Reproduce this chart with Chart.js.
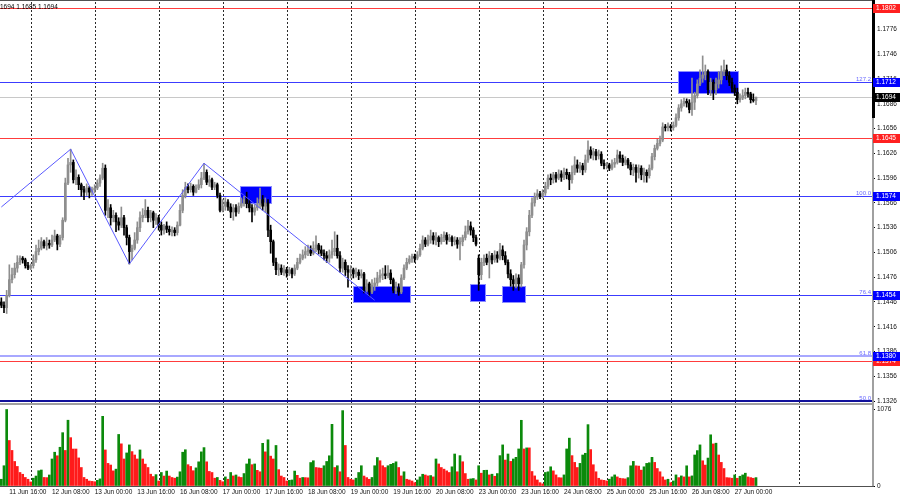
<!DOCTYPE html>
<html><head><meta charset="utf-8">
<script src="https://cdn.jsdelivr.net/npm/chart.js@4.4.1/dist/chart.umd.min.js"></script>
<style>
html,body{margin:0;padding:0;background:#fff;width:900px;height:500px;overflow:hidden}
#wrapA{position:absolute;left:0;top:0;width:900px;height:404px}
#wrapB{position:absolute;left:0;top:404px;width:900px;height:96px}
</style></head><body>
<div id="wrapA"><canvas id="priceChart"></canvas></div>
<div id="wrapB"><canvas id="volChart"></canvas></div>
<script>
// ---------- DATA ----------
const tradingDays = ['11 Jun','12 Jun','13 Jun','16 Jun','17 Jun','18 Jun','19 Jun','20 Jun','23 Jun','24 Jun','25 Jun','26 Jun','27 Jun','30 Jun'];
const firstHour = 13;      // first visible bar: 11 Jun 13:00 (H1 bars)
const slotCount = 327;     // bars + empty future slots

const opens = [
1.1446,1.1442,1.1439,1.1454,1.1473,1.1479,1.1487,1.1494,1.1499,1.1497,
1.1490,1.1487,1.1490,1.1497,1.1507,1.1511,1.1519,1.1514,1.1517,1.1515,
1.1521,1.1526,1.1516,1.1524,1.1545,1.1590,1.1612,1.1615,1.1594,1.1597,
1.1588,1.1582,1.1579,1.1584,1.1579,1.1582,1.1584,1.1590,1.1596,1.1608,
1.1557,1.1560,1.1548,1.1551,1.1543,1.1539,1.1548,1.1536,1.1524,1.1507,
1.1511,1.1521,1.1536,1.1548,1.1551,1.1557,1.1548,1.1554,1.1545,1.1548,
1.1539,1.1533,1.1538,1.1534,1.1531,1.1533,1.1530,1.1539,1.1557,1.1575,
1.1585,1.1582,1.1586,1.1579,1.1584,1.1588,1.1596,1.1603,1.1591,1.1594,
1.1585,1.1588,1.1575,1.1557,1.1562,1.1567,1.1561,1.1555,1.1560,1.1555,
1.1562,1.1565,1.1570,1.1565,1.1560,1.1555,1.1560,1.1564,1.1570,1.1562,
1.1566,1.1533,1.1519,1.1494,1.1485,1.1487,1.1482,1.1485,1.1481,1.1485,
1.1480,1.1487,1.1494,1.1499,1.1503,1.1507,1.1509,1.1505,1.1511,1.1515,
1.1509,1.1505,1.1502,1.1499,1.1503,1.1507,1.1511,1.1502,1.1487,1.1494,
1.1485,1.1482,1.1485,1.1480,1.1482,1.1478,1.1480,1.1460,1.1468,1.1458,
1.1466,1.1469,1.1475,1.1478,1.1480,1.1478,1.1481,1.1473,1.1460,1.1463,
1.1458,1.1475,1.1487,1.1494,1.1498,1.1501,1.1499,1.1503,1.1511,1.1521,
1.1516,1.1521,1.1526,1.1521,1.1524,1.1519,1.1524,1.1527,1.1521,1.1524,
1.1519,1.1521,1.1516,1.1519,1.1524,1.1531,1.1538,1.1533,1.1524,1.1499,
1.1479,1.1494,1.1499,1.1494,1.1502,1.1497,1.1503,1.1499,1.1509,1.1502,
1.1494,1.1480,1.1473,1.1468,1.1475,1.1468,1.1491,1.1515,1.1531,1.1551,
1.1566,1.1573,1.1577,1.1574,1.1578,1.1586,1.1596,1.1594,1.1600,1.1596,
1.1601,1.1597,1.1603,1.1600,1.1594,1.1603,1.1612,1.1608,1.1611,1.1606,
1.1618,1.1630,1.1624,1.1628,1.1623,1.1625,1.1614,1.1611,1.1612,1.1608,
1.1613,1.1615,1.1624,1.1620,1.1615,1.1618,1.1612,1.1606,1.1609,1.1603,
1.1608,1.1600,1.1603,1.1599,1.1608,1.1622,1.1632,1.1638,1.1642,1.1658,
1.1657,1.1659,1.1657,1.1660,1.1669,1.1681,1.1686,1.1689,1.1687,1.1679,
1.1688,1.1696,1.1710,1.1717,1.1721,1.1725,1.1703,1.1712,1.1703,1.1710,
1.1715,1.1725,1.1727,1.1720,1.1712,1.1705,1.1700,1.1691,1.1693,1.1696,
1.1700,1.1698,1.1691,1.1690];

const highs = [
1.1451,1.1446,1.1460,1.1491,1.1487,1.1493,1.1502,1.1502,1.1501,1.1499,
1.1494,1.1492,1.1503,1.1515,1.1521,1.1524,1.1521,1.1524,1.1521,1.1527,
1.1533,1.1528,1.1527,1.1548,1.1596,1.1620,1.1631,1.1618,1.1606,1.1600,
1.1590,1.1586,1.1589,1.1586,1.1585,1.1588,1.1594,1.1600,1.1614,1.1612,
1.1570,1.1564,1.1557,1.1554,1.1548,1.1561,1.1551,1.1539,1.1527,1.1515,
1.1530,1.1543,1.1555,1.1559,1.1570,1.1561,1.1557,1.1556,1.1553,1.1551,
1.1543,1.1540,1.1543,1.1538,1.1537,1.1536,1.1543,1.1564,1.1582,1.1591,
1.1589,1.1590,1.1588,1.1588,1.1594,1.1603,1.1614,1.1606,1.1599,1.1596,
1.1591,1.1590,1.1578,1.1570,1.1572,1.1570,1.1565,1.1564,1.1564,1.1566,
1.1572,1.1574,1.1579,1.1570,1.1564,1.1564,1.1572,1.1584,1.1575,1.1572,
1.1570,1.1539,1.1521,1.1499,1.1492,1.1491,1.1490,1.1488,1.1488,1.1487,
1.1491,1.1499,1.1504,1.1509,1.1513,1.1515,1.1514,1.1519,1.1526,1.1517,
1.1514,1.1509,1.1507,1.1509,1.1521,1.1531,1.1527,1.1507,1.1499,1.1497,
1.1490,1.1490,1.1487,1.1487,1.1485,1.1485,1.1482,1.1473,1.1470,1.1473,
1.1475,1.1482,1.1485,1.1487,1.1490,1.1490,1.1485,1.1475,1.1470,1.1468,
1.1479,1.1491,1.1499,1.1502,1.1504,1.1504,1.1507,1.1516,1.1526,1.1524,
1.1527,1.1533,1.1530,1.1530,1.1526,1.1528,1.1531,1.1530,1.1528,1.1526,
1.1525,1.1524,1.1524,1.1527,1.1538,1.1545,1.1543,1.1536,1.1527,1.1503,
1.1499,1.1503,1.1504,1.1507,1.1505,1.1508,1.1507,1.1517,1.1514,1.1507,
1.1497,1.1485,1.1478,1.1480,1.1479,1.1494,1.1521,1.1536,1.1557,1.1572,
1.1578,1.1582,1.1580,1.1582,1.1591,1.1600,1.1601,1.1603,1.1603,1.1606,
1.1605,1.1608,1.1607,1.1603,1.1611,1.1622,1.1618,1.1615,1.1614,1.1624,
1.1641,1.1634,1.1632,1.1631,1.1630,1.1628,1.1618,1.1615,1.1614,1.1618,
1.1620,1.1630,1.1628,1.1624,1.1622,1.1620,1.1615,1.1613,1.1612,1.1612,
1.1611,1.1608,1.1606,1.1612,1.1626,1.1636,1.1643,1.1647,1.1663,1.1661,
1.1663,1.1661,1.1664,1.1674,1.1685,1.1691,1.1693,1.1692,1.1691,1.1717,
1.1700,1.1715,1.1727,1.1744,1.1733,1.1727,1.1717,1.1715,1.1717,1.1725,
1.1732,1.1739,1.1733,1.1725,1.1717,1.1709,1.1705,1.1698,1.1703,1.1705,
1.1705,1.1700,1.1698,1.1694];

const lows = [
1.1439,1.1433,1.1432,1.1452,1.1469,1.1475,1.1482,1.1491,1.1493,1.1487,
1.1485,1.1485,1.1487,1.1494,1.1503,1.1509,1.1511,1.1509,1.1511,1.1513,
1.1519,1.1509,1.1513,1.1521,1.1543,1.1588,1.1603,1.1590,1.1588,1.1582,
1.1574,1.1570,1.1575,1.1572,1.1575,1.1578,1.1582,1.1586,1.1594,1.1551,
1.1548,1.1539,1.1543,1.1531,1.1533,1.1536,1.1527,1.1515,1.1492,1.1497,
1.1509,1.1517,1.1531,1.1543,1.1548,1.1543,1.1543,1.1536,1.1540,1.1533,
1.1527,1.1528,1.1530,1.1527,1.1526,1.1526,1.1527,1.1538,1.1554,1.1572,
1.1578,1.1579,1.1575,1.1578,1.1582,1.1584,1.1594,1.1588,1.1586,1.1582,
1.1582,1.1572,1.1555,1.1555,1.1557,1.1557,1.1548,1.1545,1.1550,1.1553,
1.1560,1.1562,1.1560,1.1555,1.1543,1.1551,1.1557,1.1560,1.1557,1.1555,
1.1525,1.1505,1.1490,1.1479,1.1478,1.1479,1.1478,1.1476,1.1478,1.1475,
1.1478,1.1485,1.1492,1.1497,1.1499,1.1502,1.1502,1.1503,1.1507,1.1504,
1.1502,1.1497,1.1494,1.1494,1.1499,1.1502,1.1499,1.1482,1.1482,1.1478,
1.1464,1.1475,1.1475,1.1476,1.1473,1.1475,1.1457,1.1458,1.1453,1.1456,
1.1460,1.1465,1.1470,1.1473,1.1474,1.1475,1.1468,1.1457,1.1456,1.1454,
1.1456,1.1473,1.1485,1.1492,1.1494,1.1494,1.1497,1.1501,1.1509,1.1513,
1.1514,1.1517,1.1516,1.1515,1.1513,1.1516,1.1519,1.1516,1.1519,1.1514,
1.1515,1.1511,1.1497,1.1514,1.1521,1.1528,1.1527,1.1519,1.1514,1.1460,
1.1473,1.1490,1.1491,1.1475,1.1492,1.1494,1.1494,1.1497,1.1497,1.1491,
1.1475,1.1465,1.1460,1.1463,1.1460,1.1464,1.1487,1.1509,1.1526,1.1548,
1.1562,1.1570,1.1571,1.1572,1.1575,1.1583,1.1588,1.1590,1.1591,1.1594,
1.1592,1.1594,1.1595,1.1582,1.1590,1.1600,1.1603,1.1603,1.1600,1.1603,
1.1615,1.1620,1.1618,1.1618,1.1619,1.1611,1.1607,1.1607,1.1605,1.1606,
1.1609,1.1613,1.1615,1.1611,1.1612,1.1608,1.1600,1.1599,1.1591,1.1596,
1.1594,1.1591,1.1591,1.1596,1.1606,1.1618,1.1630,1.1635,1.1640,1.1653,
1.1653,1.1653,1.1654,1.1658,1.1666,1.1677,1.1683,1.1682,1.1675,1.1672,
1.1679,1.1693,1.1708,1.1712,1.1715,1.1697,1.1696,1.1691,1.1697,1.1705,
1.1710,1.1720,1.1715,1.1708,1.1700,1.1696,1.1686,1.1688,1.1691,1.1692,
1.1694,1.1687,1.1688,1.1685];

const closes = [
1.1442,1.1439,1.1454,1.1473,1.1479,1.1487,1.1494,1.1499,1.1497,1.1490,
1.1487,1.1490,1.1497,1.1507,1.1511,1.1519,1.1514,1.1517,1.1515,1.1521,
1.1526,1.1516,1.1524,1.1545,1.1590,1.1612,1.1615,1.1594,1.1597,1.1588,
1.1582,1.1579,1.1584,1.1579,1.1582,1.1584,1.1590,1.1596,1.1608,1.1557,
1.1560,1.1548,1.1551,1.1543,1.1539,1.1548,1.1536,1.1524,1.1507,1.1511,
1.1521,1.1536,1.1548,1.1551,1.1557,1.1548,1.1554,1.1545,1.1548,1.1539,
1.1533,1.1538,1.1534,1.1531,1.1533,1.1530,1.1539,1.1557,1.1575,1.1585,
1.1582,1.1586,1.1579,1.1584,1.1588,1.1596,1.1603,1.1591,1.1594,1.1585,
1.1588,1.1575,1.1557,1.1562,1.1567,1.1561,1.1555,1.1560,1.1555,1.1562,
1.1565,1.1570,1.1565,1.1560,1.1555,1.1560,1.1564,1.1570,1.1562,1.1566,
1.1533,1.1519,1.1494,1.1485,1.1487,1.1482,1.1485,1.1481,1.1485,1.1480,
1.1487,1.1494,1.1499,1.1503,1.1507,1.1509,1.1505,1.1511,1.1515,1.1509,
1.1505,1.1502,1.1499,1.1503,1.1507,1.1511,1.1502,1.1487,1.1494,1.1485,
1.1482,1.1485,1.1480,1.1482,1.1478,1.1480,1.1460,1.1468,1.1458,1.1466,
1.1469,1.1475,1.1478,1.1480,1.1478,1.1481,1.1473,1.1460,1.1463,1.1458,
1.1475,1.1487,1.1494,1.1498,1.1501,1.1499,1.1503,1.1511,1.1521,1.1516,
1.1521,1.1526,1.1521,1.1524,1.1519,1.1524,1.1527,1.1521,1.1524,1.1519,
1.1521,1.1516,1.1519,1.1524,1.1531,1.1538,1.1533,1.1524,1.1516,1.1479,
1.1494,1.1499,1.1494,1.1502,1.1497,1.1503,1.1499,1.1509,1.1502,1.1494,
1.1480,1.1473,1.1468,1.1475,1.1468,1.1491,1.1515,1.1531,1.1551,1.1566,
1.1573,1.1577,1.1574,1.1578,1.1586,1.1596,1.1594,1.1600,1.1596,1.1601,
1.1597,1.1603,1.1600,1.1594,1.1603,1.1612,1.1608,1.1611,1.1606,1.1618,
1.1630,1.1624,1.1628,1.1623,1.1625,1.1614,1.1611,1.1612,1.1608,1.1613,
1.1615,1.1624,1.1620,1.1615,1.1618,1.1612,1.1606,1.1609,1.1603,1.1608,
1.1600,1.1603,1.1599,1.1608,1.1622,1.1632,1.1638,1.1642,1.1658,1.1657,
1.1659,1.1657,1.1660,1.1669,1.1681,1.1686,1.1689,1.1687,1.1679,1.1688,
1.1696,1.1710,1.1717,1.1721,1.1725,1.1703,1.1712,1.1703,1.1710,1.1715,
1.1725,1.1727,1.1720,1.1712,1.1705,1.1700,1.1691,1.1693,1.1696,1.1700,
1.1698,1.1691,1.1690,1.1694];

const volumes = [
95,285,1076,640,500,345,275,190,165,120,
95,57,110,140,215,225,120,118,155,380,
475,425,545,750,500,925,680,520,520,395,
260,120,95,70,65,60,80,100,980,507,
318,295,213,237,725,593,380,465,578,484,
436,380,507,380,308,260,166,133,160,70,
190,140,210,140,120,110,125,200,475,510,
300,275,215,255,340,480,540,340,205,190,
110,120,80,60,128,95,190,142,155,128,
120,175,310,380,300,310,220,200,600,480,
650,420,380,570,230,140,120,70,80,85,
210,150,110,120,118,115,330,355,260,255,
250,285,345,425,867,260,285,200,1060,570,
120,95,85,110,190,285,140,118,95,120,
285,400,355,285,260,285,305,318,340,260,
142,200,95,85,70,47,85,128,165,155,
142,147,128,380,310,260,237,213,190,270,
450,200,427,341,175,95,100,105,85,285,
180,220,222,156,166,137,175,427,578,365,
450,346,380,403,521,924,521,536,536,204,
142,85,47,30,190,200,270,213,156,118,
115,156,521,673,427,332,260,318,436,460,
863,512,299,200,109,85,80,71,95,128,
156,128,109,104,100,118,284,346,284,280,
223,270,318,327,403,332,246,200,128,85,
95,47,71,156,118,142,128,284,128,142,
436,498,578,355,294,393,720,592,602,436,
332,246,118,115,109,156,109,137,156,180,
128,118,109,118];

const priceTicks = [1.1326,1.1356,1.1386,1.1416,1.1446,1.1476,1.1506,1.1536,1.1566,1.1596,1.1626,1.1656,1.1686,1.1716,1.1746,1.1776];
const volumeTicks = [0, 1076];

const redLevels = [1.1802, 1.1645, 1.1374];
const fibPrices = [1.1712, 1.1574, 1.1454, 1.1380, 1.1326];
const fibNames = ['127.2', '100.0', '76.4', '61.8', '50.0'];
const bidPrice = 1.1694;
const headerText = '1694 1.1685 1.1694';

const zigzagBars = [0, 26, 48, 76, 140];
const zigzagPrices = [1.1561, 1.1631, 1.1492, 1.1614, 1.1448];

const boxBarFrom = [89.5, 131.9, 175.7, 187.7, 253.7];
const boxBarTo   = [101.5, 153.6, 181.7, 196.7, 276.6];
const boxHigh    = [1.1586, 1.1465, 1.1468, 1.1465, 1.1726];
const boxLow     = [1.1564, 1.1444, 1.1446, 1.1445, 1.1698];

// ---------- DERIVED ----------
const timeLabels = [];
{ let d = 0, h = firstHour;
  for (let i = 0; i < slotCount; i++) {
    timeLabels.push(d < tradingDays.length ? tradingDays[d] + ' ' + String(h).padStart(2,'0') + ':00' : '');
    h++; if (h === 24) { h = 0; d++; }
  } }
const lastBar = closes.length - 1;
const dayStarts = [];
timeLabels.forEach((l, i) => { if (l.endsWith(' 00:00')) dayStarts.push(i); });
const firstLabelIdx = 3, labelStep = 16;
const showTime = i => i >= firstLabelIdx && i <= lastBar && (i - firstLabelIdx) % labelStep === 0;

const BULL = '#8e8e8e', BEAR = '#000000';
const candleColors = closes.map((c, i) => c >= opens[i] ? BULL : BEAR);
const wickData = lows.map((l, i) => [l, highs[i]]);
const bodyData = opens.map((o, i) => [Math.min(o, closes[i]), Math.max(o, closes[i])]);
const volColors = volumes.map((v, i) => (i === 0 || v > volumes[i-1]) ? '#0b8a0b' : '#ff1a1a');

const FONT = 'Liberation Sans, Arial, sans-serif';
Chart.defaults.font.family = FONT;

function drawDayGrid(chart) {
  const { ctx, chartArea: a, scales: { x } } = chart;
  ctx.save();
  ctx.beginPath(); ctx.rect(a.left, a.top, a.right - a.left, a.bottom - a.top); ctx.clip();
  ctx.strokeStyle = '#2a2a2a'; ctx.lineWidth = 1; ctx.setLineDash([2, 2]);
  dayStarts.forEach(i => {
    const px = Math.round(x.getPixelForValue(i)) + 0.5;
    ctx.beginPath(); ctx.moveTo(px, a.top); ctx.lineTo(px, a.bottom); ctx.stroke();
  });
  ctx.restore();
}

function hLine(ctx, a, y, color, w) {
  ctx.save(); ctx.strokeStyle = color; ctx.lineWidth = w;
  const yy = w % 2 ? Math.round(y) + 0.5 : Math.round(y);
  ctx.beginPath(); ctx.moveTo(a.left, yy); ctx.lineTo(a.right, yy); ctx.stroke(); ctx.restore();
}

function axisBox(ctx, y, bg, text) {
  ctx.save();
  ctx.fillStyle = bg; ctx.fillRect(873, Math.round(y) - 4, 27, 9);
  ctx.fillStyle = '#fff'; ctx.font = '6.5px ' + FONT; ctx.textBaseline = 'middle'; ctx.textAlign = 'left';
  ctx.fillText(text, 876, Math.round(y) + 0.5);
  ctx.restore();
}

const pricePlugin = {
  id: 'priceOverlay',
  beforeDatasetsDraw(chart) {
    const { ctx, chartArea: a, scales: { x, y } } = chart;
    drawDayGrid(chart);
    hLine(ctx, a, y.getPixelForValue(bidPrice), '#c8c8c8', 1);
    hLine(ctx, a, y.getPixelForValue(fibPrices[0]), '#3c3cff', 1);
    hLine(ctx, a, y.getPixelForValue(fibPrices[1]), '#3c3cff', 1);
    hLine(ctx, a, y.getPixelForValue(fibPrices[2]), '#3c3cff', 1);
    hLine(ctx, a, y.getPixelForValue(fibPrices[3]), '#a8a8ff', 2);
    hLine(ctx, a, y.getPixelForValue(fibPrices[4]), '#10109a', 2);
    redLevels.forEach(p => hLine(ctx, a, y.getPixelForValue(p), '#ff3c3c', 1));
    ctx.save();
    ctx.beginPath(); ctx.rect(a.left, a.top, a.right - a.left, a.bottom - a.top); ctx.clip();
    for (let k = 0; k < boxBarFrom.length; k++) {
      const x1 = x.getPixelForValue(boxBarFrom[k]), x2 = x.getPixelForValue(boxBarTo[k]);
      const y1 = y.getPixelForValue(boxHigh[k]), y2 = y.getPixelForValue(boxLow[k]);
      ctx.fillStyle = '#0000ff';
      ctx.fillRect(Math.round(x1), Math.round(y1), Math.round(x2 - x1), Math.round(y2 - y1));
      ctx.strokeStyle = '#8c8cff'; ctx.lineWidth = 1;
      ctx.strokeRect(Math.round(x1) + 0.5, Math.round(y1) + 0.5, Math.round(x2 - x1) - 1, Math.round(y2 - y1) - 1);
    }
    ctx.restore();
  },
  afterDatasetsDraw(chart) {
    const { ctx, chartArea: a, scales: { x, y } } = chart;
    ctx.save();
    ctx.beginPath(); ctx.rect(a.left, a.top, a.right - a.left, a.bottom - a.top); ctx.clip();
    ctx.strokeStyle = '#5a5aff'; ctx.lineWidth = 1;
    ctx.beginPath();
    zigzagBars.forEach((b, k) => {
      const px = x.getPixelForValue(b), py = y.getPixelForValue(zigzagPrices[k]);
      if (k === 0) ctx.moveTo(px, py); else ctx.lineTo(px, py);
    });
    ctx.stroke();
    ctx.restore();
  },
  afterDraw(chart) {
    const { ctx, scales: { y } } = chart;
    ctx.save();
    ctx.fillStyle = '#505050'; ctx.fillRect(0, 0, 874, 1);
    ctx.fillStyle = '#a0a0a0'; ctx.fillRect(872, 0, 2, 404);
    ctx.fillStyle = '#000'; ctx.fillRect(872, 0, 3, 118);
    ctx.fillStyle = '#a0a0a0'; ctx.fillRect(0, 403, 874, 1);
    ctx.font = '6px ' + FONT; ctx.fillStyle = '#6a6aff'; ctx.textAlign = 'right'; ctx.textBaseline = 'bottom';
    fibPrices.forEach((p, k) => ctx.fillText(fibNames[k], 871, Math.round(y.getPixelForValue(p))));
    axisBox(ctx, y.getPixelForValue(redLevels[0]), '#ff2020', redLevels[0].toFixed(4));
    axisBox(ctx, y.getPixelForValue(fibPrices[0]), '#0000ff', fibPrices[0].toFixed(4));
    axisBox(ctx, y.getPixelForValue(bidPrice), '#000000', bidPrice.toFixed(4));
    axisBox(ctx, y.getPixelForValue(redLevels[1]), '#ff2020', redLevels[1].toFixed(4));
    axisBox(ctx, y.getPixelForValue(fibPrices[1]), '#0000ff', fibPrices[1].toFixed(4));
    axisBox(ctx, y.getPixelForValue(fibPrices[2]), '#0000ff', fibPrices[2].toFixed(4));
    axisBox(ctx, y.getPixelForValue(redLevels[2]), '#ff2020', redLevels[2].toFixed(4));
    axisBox(ctx, y.getPixelForValue(fibPrices[3]), '#0000ff', fibPrices[3].toFixed(4));
    ctx.font = '6.5px ' + FONT; ctx.fillStyle = '#000'; ctx.textAlign = 'left'; ctx.textBaseline = 'middle';
    ctx.fillText(headerText, 0, 7);
    ctx.restore();
  }
};

const volPlugin = {
  id: 'volOverlay',
  beforeDatasetsDraw(chart) { drawDayGrid(chart); },
  afterDraw(chart) {
    const { ctx, chartArea: a } = chart;
    ctx.save();
    ctx.fillStyle = '#a0a0a0'; ctx.fillRect(0, 0, 874, 1);
    ctx.fillStyle = '#a0a0a0'; ctx.fillRect(872, 0, 2, Math.round(a.bottom) + 1);
    ctx.fillStyle = '#505050'; ctx.fillRect(0, Math.round(a.bottom), 874, 1);
    ctx.restore();
  }
};

const PRICE_MAX = 1.18093, PRICE_MIN = 1.13236;
const fixY = s => { s.width = 28; s.paddingTop = 0; s.paddingBottom = 0; };

new Chart(document.getElementById('priceChart'), {
  type: 'bar',
  data: { labels: timeLabels, datasets: [
    { data: wickData, backgroundColor: candleColors, barThickness: 1, grouped: false, order: 2 },
    { data: bodyData, backgroundColor: candleColors, barThickness: 2, minBarLength: 1, grouped: false, order: 1 }
  ]},
  options: {
    responsive: true, maintainAspectRatio: false, animation: false, devicePixelRatio: 1, events: [],
    layout: { padding: { top: 2, bottom: 1, left: 0, right: 0 } },
    plugins: { legend: { display: false }, tooltip: { enabled: false } },
    scales: {
      x: { display: false, offset: true },
      y: {
        position: 'right', min: PRICE_MIN, max: PRICE_MAX,
        afterFit: fixY,
        afterBuildTicks: s => { s.ticks = priceTicks.map(v => ({ value: v })); },
        ticks: { callback: v => Number(v).toFixed(4), font: { size: 6.5 }, color: '#111', padding: 2, autoSkip: false },
        grid: { drawOnChartArea: false, drawTicks: true, tickLength: 3, tickColor: '#000' },
        border: { display: false }
      }
    }
  },
  plugins: [pricePlugin]
});

new Chart(document.getElementById('volChart'), {
  type: 'bar',
  data: { labels: timeLabels, datasets: [
    { data: volumes, backgroundColor: volColors, barThickness: 2, grouped: false }
  ]},
  options: {
    responsive: true, maintainAspectRatio: false, animation: false, devicePixelRatio: 1, events: [],
    layout: { padding: { top: 2, bottom: 4, left: 0, right: 0 } },
    plugins: { legend: { display: false }, tooltip: { enabled: false } },
    scales: {
      x: {
        offset: true, grid: { display: false, drawTicks: false }, border: { display: false },
        afterFit: s => { s.height = 10; s.paddingLeft = 0; s.paddingRight = 0; },
        ticks: { autoSkip: false, maxRotation: 0, minRotation: 0, align: 'start', padding: 2,
                 font: { size: 6.5 }, color: '#111', callback: (v, i) => showTime(i) ? timeLabels[i] : '' }
      },
      y: {
        position: 'right', min: 0, max: 1125,
        afterFit: fixY,
        afterBuildTicks: s => { s.ticks = volumeTicks.map(v => ({ value: v })); },
        ticks: { callback: v => String(v), font: { size: 6.5 }, color: '#111', padding: 2 },
        grid: { drawOnChartArea: false, drawTicks: true, tickLength: 3, tickColor: '#000' },
        border: { display: false }
      }
    }
  },
  plugins: [volPlugin]
});
</script>
</body></html>
